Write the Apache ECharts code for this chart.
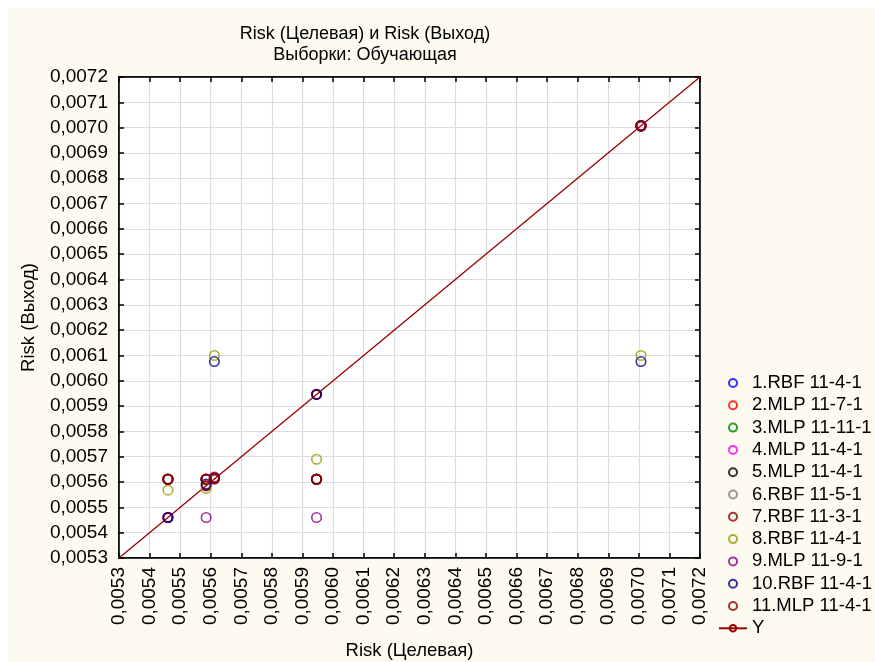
<!DOCTYPE html>
<html>
<head>
<meta charset="utf-8">
<script src="https://cdn.jsdelivr.net/npm/echarts@6/dist/echarts.min.js"></script>
<style>
  html, body { margin: 0; padding: 0; background: #ffffff; }
  #panel { position: absolute; left: 8px; top: 8px; right: 0; bottom: 0; background: #FDFAF0; }
  #chart { position: absolute; left: 0; top: 0; width: 875px; height: 662px; }
</style>
</head>
<body>
<div id="panel"></div>
<div id="chart"></div>
<script>
// Target risk values (x) shared by all networks
var targets = [0.00546, 0.005585, 0.005612, 0.005946, 0.007007];

// Network outputs (y) for each target
var out1  = [0.005611, 0.005611, 0.005615, 0.005611, 0.007007];
var out2  = [0.005611, 0.005611, 0.005615, 0.005611, 0.007007];
var out3  = [0.005611, 0.005611, 0.005615, 0.005611, 0.007007];
var out4  = [0.005611, 0.005611, 0.005615, 0.005611, 0.007007];
var out5  = [0.005611, 0.005611, 0.005615, 0.005611, 0.007007];
var out6  = [0.005611, 0.005611, 0.005615, 0.005611, 0.007007];
var out7  = [0.005611, 0.005611, 0.005615, 0.005611, 0.007007];
var out8  = [0.005568, 0.005575, 0.0061,   0.00569,  0.0061];
var out9  = [0.00546,  0.00546,  0.00562,  0.00546,  0.007007];
var out10 = [0.00546,  0.005592, 0.006076, 0.005947, 0.006076];
var out11 = [0.005611, 0.005611, 0.005615, 0.005611, 0.007007];

var seriesNames = ['1.RBF 11-4-1', '2.MLP 11-7-1', '3.MLP 11-11-1', '4.MLP 11-4-1',
  '5.MLP 11-4-1', '6.RBF 11-5-1', '7.RBF 11-3-1', '8.RBF 11-4-1', '9.MLP 11-9-1',
  '10.RBF 11-4-1', '11.MLP 11-4-1'];
var seriesColors = ['#0000FF', '#FF0000', '#008000', '#FF00FF', '#000000', '#808080',
  '#8B0000', '#9A9A00', '#8B008B', '#00008B', '#8B0000'];
var outputs = [out1, out2, out3, out4, out5, out6, out7, out8, out9, out10, out11];

// Axis range and tick step
var axisMin = 0.0053, axisMax = 0.0072, axisStep = 0.0001;

var fontFam = '"Liberation Sans", Arial, sans-serif';
function fmt(v) { return v.toFixed(4).replace('.', ','); }

// Reference line Y = target, with markers at the target values
var yLineData = [{ value: [axisMin, axisMin], symbol: 'none' }];
targets.forEach(function (t) { yLineData.push([t, t]); });
yLineData.push({ value: [axisMax, axisMax], symbol: 'none' });

var series = [{
  name: 'Y',
  type: 'line',
  data: yLineData,
  symbol: 'circle',
  symbolSize: 9,
  showAllSymbol: true,
  lineStyle: { color: '#990000', width: 1.3 },
  itemStyle: { color: 'rgba(0,0,0,0)', borderColor: '#990000', borderWidth: 2 },
  silent: true,
  z: 2
}];
outputs.forEach(function (arr, i) {
  series.push({
    name: seriesNames[i],
    type: 'scatter',
    data: targets.map(function (t, k) { return [t, arr[k]]; }),
    symbol: 'circle',
    symbolSize: 9.5,
    itemStyle: { color: 'rgba(0,0,0,0)', borderColor: seriesColors[i], borderWidth: i === 10 ? 2 : 1.6 },
    silent: true,
    z: 3
  });
});

var legendData = seriesNames.concat(['Y']);

function axisCommon(extra) {
  var a = {
    type: 'value',
    min: axisMin,
    max: axisMax,
    interval: axisStep,
    axisLine: { show: true, onZero: false, lineStyle: { color: '#000', width: 1.5 } },
    axisTick: { show: true, inside: true, length: 5, lineStyle: { color: '#000', width: 1.5 } },
    splitLine: { show: false },
    axisLabel: { show: false }
  };
  for (var k in extra) a[k] = extra[k];
  return a;
}

var chart = echarts.init(document.getElementById('chart'), null, { renderer: 'canvas' });
chart.setOption({
  animation: false,
  backgroundColor: 'transparent',
  textStyle: { fontFamily: fontFam },
  title: {
    text: 'Risk (Целевая) и Risk (Выход)\nВыборки: Обучающая',
    left: 360,
    top: 19,
    textAlign: 'center',
    textStyle: { fontFamily: fontFam, fontSize: 18, fontWeight: 'normal', color: '#000', lineHeight: 21 }
  },
  grid: {
    left: 119, top: 77, width: 581, height: 481,
    outerBoundsMode: 'none',
    containLabel: false,
    show: true, backgroundColor: '#ffffff', borderColor: '#000', borderWidth: 1.5
  },
  legend: {
    data: legendData,
    orient: 'vertical',
    left: 718,
    top: 373,
    padding: 0,
    itemWidth: 28,
    itemHeight: 8,
    itemGap: 2.3,
    selectedMode: false,
    textStyle: { fontFamily: fontFam, fontSize: 18.5, color: '#000', lineHeight: 20 }
  },
  xAxis: [
    axisCommon({
      position: 'bottom',
      name: 'Risk (Целевая)',
      nameLocation: 'middle',
      nameGap: 83,
      nameTextStyle: { fontFamily: fontFam, fontSize: 18.5, color: '#000' },
      splitLine: { show: true, lineStyle: { color: '#DCDCDC', width: 1.2 } },
      axisLabel: { show: true, rotate: 90, margin: 9, fontSize: 19, color: '#000', fontFamily: fontFam, formatter: fmt }
    }),
    axisCommon({ position: 'top' })
  ],
  yAxis: [
    axisCommon({
      position: 'left',
      name: 'Risk (Выход)',
      nameLocation: 'middle',
      nameGap: 81,
      nameTextStyle: { fontFamily: fontFam, fontSize: 18.5, color: '#000' },
      splitLine: { show: true, lineStyle: { color: '#DCDCDC', width: 1.2 } },
      axisLabel: { show: true, margin: 11, fontSize: 19, color: '#000', fontFamily: fontFam, formatter: fmt }
    }),
    axisCommon({ position: 'right' })
  ],
  series: series
});
</script>
</body>
</html>
